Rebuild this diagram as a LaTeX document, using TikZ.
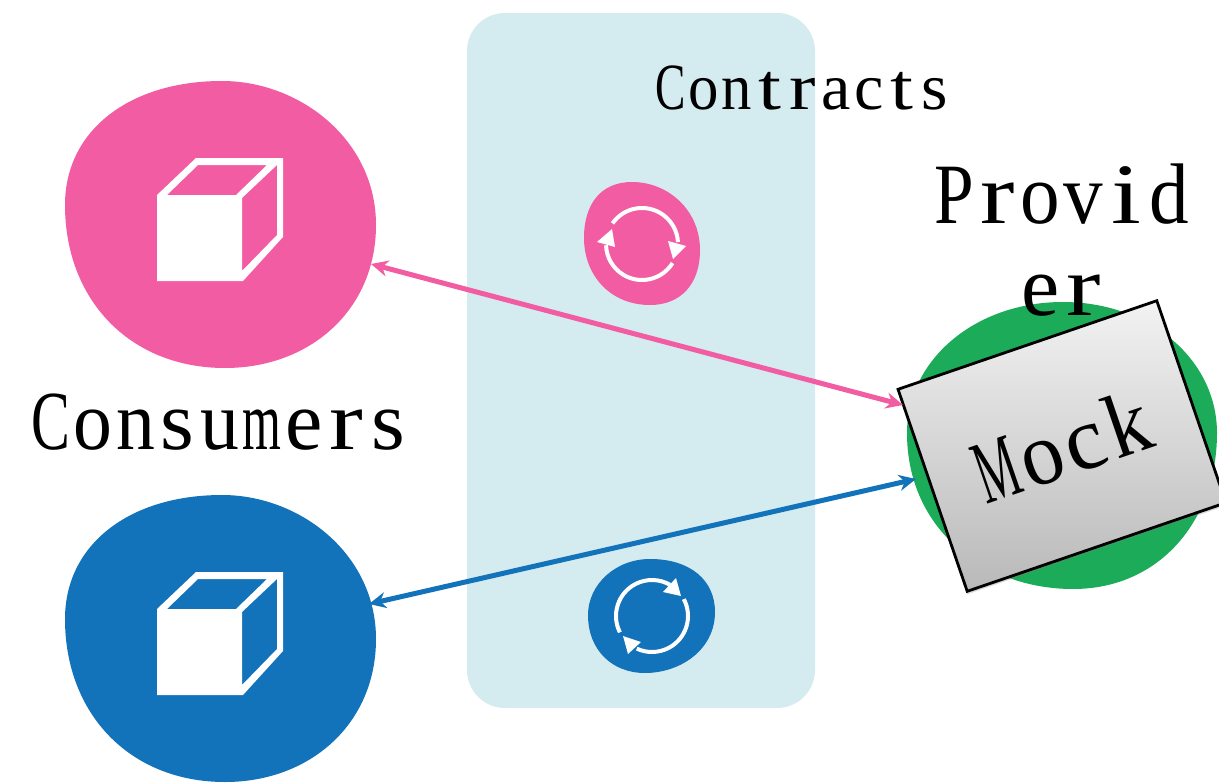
\documentclass[tikz,border=0pt]{standalone}
\usepackage{fontspec}
\usepackage{graphicx}
\usetikzlibrary{arrows.meta,shadows}
\setmainfont{Liberation Serif}
\definecolor{pinkc}{HTML}{F25CA2}
\definecolor{bluec}{HTML}{1272BA}
\definecolor{greenc}{HTML}{1CAB58}
\definecolor{panelc}{HTML}{D4EBF0}
\newlength\cellw
\newsavebox\cellb
\newcommand{\cellchar}[1]{\sbox\cellb{#1}\makebox[\cellw]{%
  \ifdim\wd\cellb>.92\cellw\resizebox{.92\cellw}{\height}{#1}%
  \else\ifdim\wd\cellb>.6\cellw\ifdim\wd\cellb<.8\cellw\resizebox{.8\cellw}{\height}{#1}\else#1\fi
  \else\scalebox{1.25}[1]{#1}\fi\fi}}
\def\monoloop#1{\ifx#1\relax\else\cellchar{#1}\expandafter\monoloop\fi}
\newcommand{\monotext}[2]{\setlength\cellw{#1}\monoloop#2\relax}
\tikzset{
  x=1pt,y=-1pt,
  panelbox/.style={fill=panelc,rounded corners=38pt},
  blob/.style={fill=#1,draw=none},
  lbl/.style={text=black,inner sep=0pt,anchor=base},
  link/.style={draw=#1,line width=5pt,{Stealth[length=17pt,width=16pt]}-{Stealth[length=17pt,width=16pt]}},
  cubeicon/.style={fill=white,even odd rule},
  turn/.style={draw=white,line width=4pt},
  turnhead/.style={fill=white},
  mockbox/.style={draw=black,line width=2.8pt,rotate=18.9,minimum width=273.5pt,minimum height=213.5pt,
    top color=gray!10,bottom color=gray!55,inner sep=0pt,
    drop shadow={shadow xshift=0pt,shadow yshift=-3pt,opacity=.3}},
}
\begin{document}
\begin{tikzpicture}
\useasboundingbox (0,0) rectangle (1219,784);
% panel
\path[panelbox] (467,13) rectangle (815,708);
% large blobs
\foreach \dy/\col in {0/pinkc,414/bluec}{
\path[blob=\col,yshift=-\dy pt] (222,81) .. controls (300,81) and (376,140) .. (376,225) .. controls (376,310) and (310,368) .. (225,368) .. controls (130,368) and (65,300) .. (65,205) .. controls (65,130) and (130,81) .. (222,81) -- cycle;
\path[cubeicon,yshift=-\dy pt] (157,195) -- (196,158) -- (283,158) -- (283,237) -- (243,281) -- (157,281) -- cycle
  (167,195) -- (198,165) -- (267,165) -- (236,195) -- cycle
  (242,198) -- (277,165) -- (277,235) -- (242,271) -- cycle;
}
% small blobs
\path[blob=pinkc] (632,182) .. controls (668,182) and (700,210) .. (700,250) .. controls (700,285) and (680,305) .. (650,305) .. controls (610,305) and (584,275) .. (584,238) .. controls (584,205) and (600,182) .. (632,182) -- cycle;
\path[blob=bluec] (650,559) .. controls (690,559) and (715,580) .. (715,612) .. controls (715,650) and (680,673) .. (645,673) .. controls (612,673) and (588,650) .. (588,615) .. controls (588,585) and (615,559) .. (650,559) -- cycle;
% cycle icons
\draw[turn] (642,244) ++(215:36) arc[start angle=215,end angle=357,radius=36];
\draw[turn] (642,244) ++(32:36) arc[start angle=32,end angle=178,radius=36];
\path[turnhead] (668,241) -- (686,246) -- (673,259) -- cycle;
\path[turnhead] (597,242) -- (612,229) -- (615,247) -- cycle;
\draw[turn] (652,616) ++(153:36) arc[start angle=153,end angle=300,radius=36];
\draw[turn] (652,616) ++(332:36) arc[start angle=332,end angle=475,radius=36];
\path[turnhead] (663,592) -- (676,578) -- (681,596) -- cycle;
\path[turnhead] (623,636) -- (641,642) -- (628,654) -- cycle;
% provider blob
\path[blob=greenc] (1063,302) .. controls (1150,302) and (1217,360) .. (1217,433) .. controls (1217,520) and (1160,589) .. (1073,589) .. controls (985,589) and (907,530) .. (907,433) .. controls (907,360) and (975,302) .. (1063,302) -- cycle;
% labels
\node[lbl,font=\fontsize{66}{66}\selectfont] (contracts) at (803,110) {\monotext{33pt}{Contracts}};
\node[lbl,font=\fontsize{84}{84}\selectfont] (consumers) at (220,449) {\monotext{42.2pt}{Consumers}};
\node[lbl,font=\fontsize{86}{86}\selectfont] (provider) at (1062,223) {\monotext{43pt}{Provid}};
\node[lbl,font=\fontsize{86}{86}\selectfont] (providerb) at (1062,315) {\monotext{43pt}{er}};
% mock
\node[mockbox,font=\fontsize{90}{90}\selectfont] (mock) at (1062,446) {\monotext{46pt}{Mock}};
% connectors
\coordinate (pinkA) at (371,264);
\coordinate (pinkB) at (903,405);
\coordinate (blueA) at (369,604);
\coordinate (blueB) at (916,479);
\draw[link=pinkc] (pinkA) -- (pinkB);
\draw[link=bluec] (blueA) -- (blueB);
\end{tikzpicture}
\end{document}
